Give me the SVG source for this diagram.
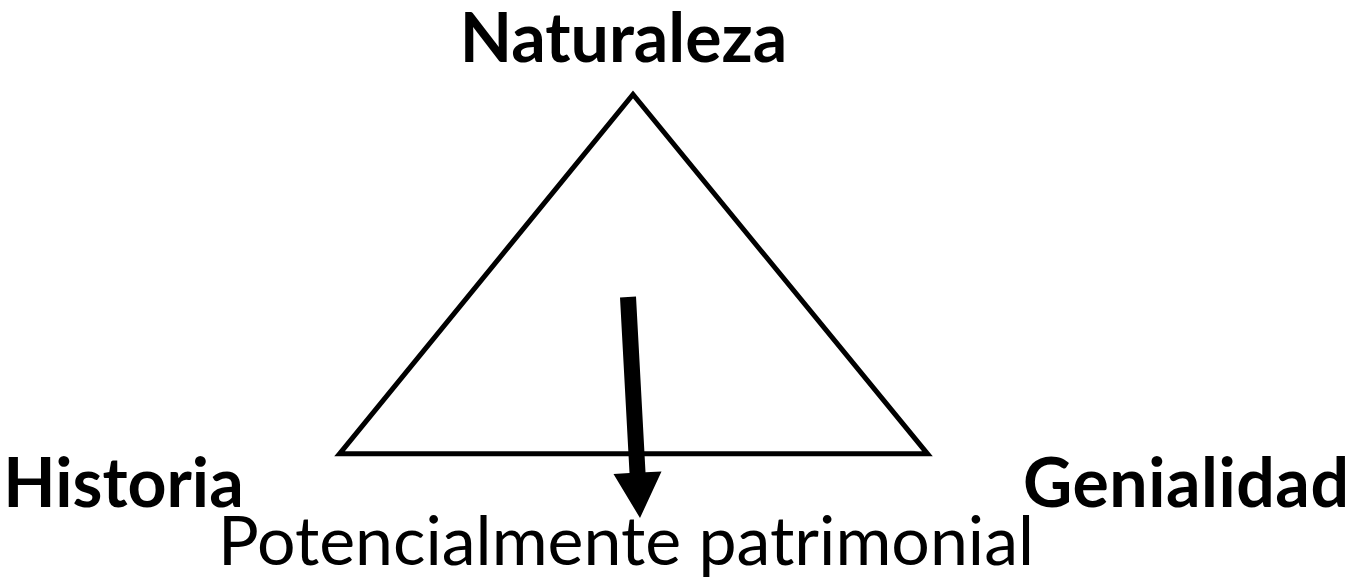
<svg xmlns="http://www.w3.org/2000/svg" width="1358" height="577" viewBox="0 0 1358 577">
<style>
.lbl{font-family:Lato,"Open Sans","Liberation Sans",sans-serif;font-size:68px;fill:#000;text-anchor:middle}
.b{font-weight:bold}
</style>
<rect width="1358" height="577" fill="#fff"/>
<g id="triangle">
<polygon points="339.5,453.8 633,94.5 927.5,453.8" fill="none" stroke="#000" stroke-width="5" stroke-linejoin="miter"/>
</g>
<g id="naturaleza"><text class="lbl b" x="623.5" y="62">Naturaleza</text></g>
<g id="historia"><text class="lbl b" x="123.5" y="507">Historia</text></g>
<g id="genialidad"><text class="lbl b" x="1186" y="507" textLength="326" lengthAdjust="spacing">Genialidad</text></g>
<g id="potencial"><text class="lbl" x="626" y="565">Potencialmente patrimonial</text></g>
<g id="connectors">
<polygon points="620,297.4 636,296.6 645.5,472.3 661.5,471.4 640,518 613.5,474 629.5,473.1" fill="#000"/>
</g>
</svg>
